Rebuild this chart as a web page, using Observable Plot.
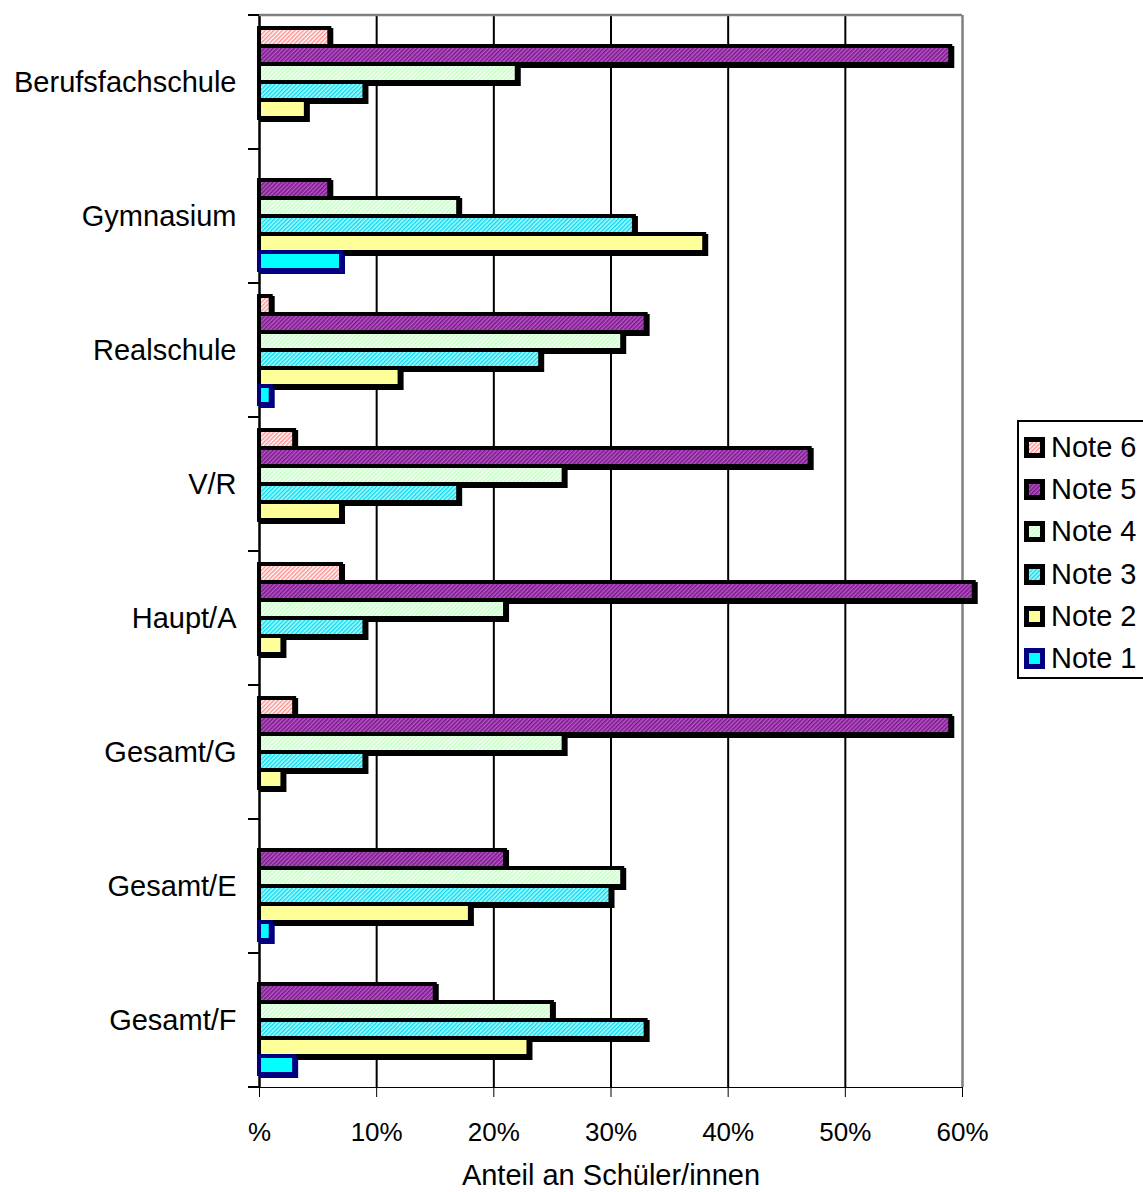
<!DOCTYPE html>
<html>
<head>
<meta charset="utf-8">
<script src="https://cdn.jsdelivr.net/npm/d3@7"></script>
<script src="https://cdn.jsdelivr.net/npm/@observablehq/plot@0.6"></script>
<style>
  html, body { margin: 0; padding: 0; background: white; overflow: hidden; }
  #wrap { position: relative; width: 1143px; height: 1192px; overflow: hidden; }
  #legend { position: absolute; left: 1017px; top: 420px; width: 150px; height: 259px;
            border: 2px solid black; background: white; font-family: "Liberation Sans", Arial, sans-serif;
            font-size: 29px; color: black; box-sizing: border-box; padding-top: 4px; }
  .item { height: 42.3px; display: flex; align-items: center; }
  .item svg { margin-left: 5px; margin-right: 6px; }
</style>
</head>
<body>
<svg width="0" height="0" style="position:absolute">
  <defs>
    <pattern id="p6" width="3" height="3" patternUnits="userSpaceOnUse" patternTransform="rotate(45)">
      <rect width="3" height="3" fill="#ffffff"/>
      <rect width="1.5" height="3" fill="#ff9090"/>
    </pattern>
    <pattern id="p5" width="3" height="3" patternUnits="userSpaceOnUse" patternTransform="rotate(45)">
      <rect width="3" height="3" fill="#c050d0"/>
      <rect width="1.5" height="3" fill="#701e80"/>
    </pattern>
    <pattern id="p4" width="3" height="3" patternUnits="userSpaceOnUse" patternTransform="rotate(45)">
      <rect width="3" height="3" fill="#f6fff6"/>
      <rect width="1.5" height="3" fill="#c4ffc4"/>
    </pattern>
    <pattern id="p3" width="3" height="3" patternUnits="userSpaceOnUse" patternTransform="rotate(45)">
      <rect width="3" height="3" fill="#b0ffff"/>
      <rect width="1.5" height="3" fill="#10d8f0"/>
    </pattern>
  </defs>
</svg>
<div id="wrap">
  <div id="chart"></div>
  <div id="legend"></div>
</div>
<script>
// ---- data ----
const categories = ["Berufsfachschule", "Gymnasium", "Realschule", "V/R", "Haupt/A", "Gesamt/G", "Gesamt/E", "Gesamt/F"];
const notes = ["Note 6", "Note 5", "Note 4", "Note 3", "Note 2", "Note 1"];
const note6 = [6, 0, 1, 3, 7, 3, 0, 0];
const note5 = [59, 6, 33, 47, 61, 59, 21, 15];
const note4 = [22, 17, 31, 26, 21, 26, 31, 25];
const note3 = [9, 32, 24, 17, 9, 9, 30, 33];
const note2 = [4, 38, 12, 7, 2, 2, 18, 23];
const note1 = [0, 7, 1, 0, 0, 0, 1, 3];
const xTicks = [0, 10, 20, 30, 40, 50, 60];
const xLabel = "Anteil an Schüler/innen";

const series = [note6, note5, note4, note3, note2, note1];
const fills = ["url(#p6)", "url(#p5)", "url(#p4)", "url(#p3)", "#ffff99", "#00ffff"];
const strokes = ["black", "black", "black", "black", "black", "#000080"];

const rows = [];
series.forEach((vals, i) => vals.forEach((v, j) => rows.push({cat: categories[j], note: notes[i], v})));
const data = rows.filter(d => d.v > 0);

const W = 1143, H = 1192;
const chart = Plot.plot({
  width: W, height: H,
  marginLeft: 259, marginRight: 181, marginTop: 13, marginBottom: 104,
  style: {fontFamily: "'Liberation Sans', Arial, sans-serif", fontSize: "26px", background: "white", color: "black", overflow: "visible"},
  x: {domain: [0, 60], ticks: xTicks, tickFormat: d => d === 0 ? "%" : d + "%", tickSize: 10, tickPadding: 25,
      label: xLabel, labelAnchor: "center", labelOffset: 97, labelArrow: "none", line: true},
  y: {domain: notes, paddingInner: 0, paddingOuter: 0.62, axis: null},
  fy: {domain: categories, padding: 0, label: null, tickSize: 0, tickPadding: 23, axis: "left"},
  marks: [
    Plot.ruleX(xTicks.filter(t => t > 0 && t < 60), {stroke: "black", strokeWidth: 2}),
    Plot.ruleX([60], {stroke: "#808080", strokeWidth: 2.5}),
    Plot.ruleX([0], {stroke: "black", strokeWidth: 2.5}),
    ...notes.map((n, i) => Plot.barX(data.filter(d => d.note === n), {
      x: "v", y: "note", fy: "cat", fill: strokes[i], stroke: strokes[i], strokeWidth: 4, dx: 2, dy: 2
    })),
    ...notes.map((n, i) => Plot.barX(data.filter(d => d.note === n), {
      x: "v", y: "note", fy: "cat", fill: fills[i], stroke: strokes[i], strokeWidth: 4
    }))
  ]
});
document.getElementById("chart").appendChild(chart);

const svg = d3.select(chart.tagName.toLowerCase() === "svg" ? chart : chart.querySelector("svg"));
// larger text for category labels and axis label
svg.selectAll("[aria-label='fy-axis tick label'] text, [aria-label='fy-axis tick label']").style("font-size", "29px");
svg.selectAll("[aria-label='x-axis label'] text, [aria-label='x-axis label']").style("font-size", "29px");

// Axis decorations at category band boundaries, positioned from the library's scales
const fy = chart.scale("fy"), xs = chart.scale("x");
const g = svg.append("g");
const bounds = categories.map(c => fy.apply(c)).concat([fy.apply(categories[categories.length - 1]) + fy.bandwidth]);
const x0 = xs.apply(0), x60 = xs.apply(60);
g.append("line").attr("x1", x0).attr("x2", x60).attr("y1", bounds[0]).attr("y2", bounds[0])
  .attr("stroke", "#808080").attr("stroke-width", 2.5);
bounds.forEach(b => g.append("line").attr("x1", x0 - 11).attr("x2", x0).attr("y1", b).attr("y2", b)
  .attr("stroke", "black").attr("stroke-width", 2));

// Legend
const leg = document.getElementById("legend");
notes.forEach((n, i) => {
  const item = document.createElement("div");
  item.className = "item";
  item.innerHTML = `<svg width="21" height="21"><rect x="2.5" y="2.5" width="16" height="16" fill="${fills[i]}" stroke="${strokes[i]}" stroke-width="5"/></svg><span>${n}</span>`;
  leg.appendChild(item);
});
</script>
</body>
</html>
